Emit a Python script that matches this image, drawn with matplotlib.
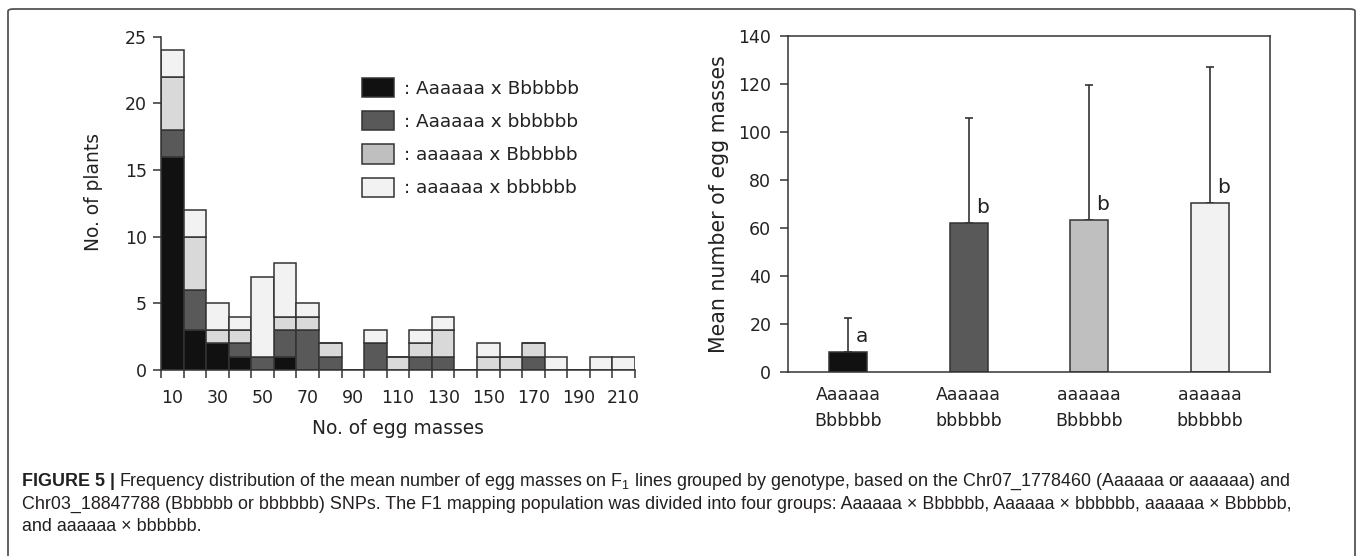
import matplotlib
matplotlib.use('Agg')
import matplotlib.pyplot as plt
import matplotlib.patches as patches
from matplotlib import font_manager
import numpy as np

# histogram counts per 10-wide bin (bin centres 10..210)
bin_centres = np.arange(10, 220, 10)
n_AB = [16, 3, 2, 1, 0, 1, 0, 0, 0, 0, 0, 0, 0, 0, 0, 0, 0, 0, 0, 0, 0]
n_Ab = [2, 3, 0, 1, 1, 2, 3, 1, 0, 2, 0, 1, 1, 0, 0, 0, 1, 0, 0, 0, 0]
n_aB = [4, 4, 1, 1, 0, 1, 1, 1, 0, 0, 1, 1, 2, 0, 1, 1, 1, 0, 0, 0, 0]
n_ab = [2, 2, 2, 1, 6, 4, 1, 0, 0, 1, 0, 1, 1, 0, 1, 0, 0, 1, 0, 1, 1]
hist_labels = [': Aaaaaa x Bbbbbb', ': Aaaaaa x bbbbbb',
               ': aaaaaa x Bbbbbb', ': aaaaaa x bbbbbb']

# mean number of egg masses per genotype group
groups = ['Aaaaaa\nBbbbbb', 'Aaaaaa\nbbbbbb', 'aaaaaa\nBbbbbb', 'aaaaaa\nbbbbbb']
means = [8.6, 62.1, 63.2, 70.3]
sd = [14.1, 43.7, 56.4, 56.8]
letters = ['a', 'b', 'b', 'b']

hist_colors = ['#111111', '#595959', '#d9d9d9', '#f2f2f2']
leg_colors = ['#111111', '#595959', '#bfbfbf', '#f2f2f2']
bar_colors = ['#111111', '#595959', '#bfbfbf', '#f2f2f2']
edge = '#333333'

plt.rcParams['font.family'] = 'DejaVu Sans'
plt.rcParams['font.size'] = 12.5
plt.rcParams['text.color'] = '#222222'
plt.rcParams['axes.labelcolor'] = '#222222'
plt.rcParams['xtick.color'] = '#333333'
plt.rcParams['ytick.color'] = '#333333'
plt.rcParams['xtick.labelcolor'] = '#222222'
plt.rcParams['ytick.labelcolor'] = '#222222'

names = {f.name for f in font_manager.fontManager.ttflist}
cap_font = 'Liberation Sans Narrow' if 'Liberation Sans Narrow' in names else 'Liberation Sans'
plt.rcParams['mathtext.fontset'] = 'custom'
plt.rcParams['mathtext.rm'] = cap_font

W, H = 1358, 556
fig = plt.figure(figsize=(W / 100, H / 100), dpi=100)

# ---- left: stacked histogram
ax1 = fig.add_axes([161 / W, 1 - 370 / H, 474 / W, 333.5 / H])
bottom = np.zeros(len(bin_centres))
for vals, col in zip([n_AB, n_Ab, n_aB, n_ab], hist_colors):
    vals = np.array(vals, dtype=float)
    ax1.bar(bin_centres, vals, width=10, bottom=bottom, color=col,
            edgecolor=edge, linewidth=1.1, zorder=2)
    bottom += vals
ax1.set_xlim(5, 215)
ax1.set_ylim(0, 25)
ax1.set_yticks(np.arange(0, 26, 5))
ax1.set_xticks(np.arange(5, 216, 10))
ax1.set_xticklabels([])
ax1.set_xticks(bin_centres[::2], minor=True)
ax1.set_xticklabels([str(v) for v in bin_centres[::2]], minor=True)
ax1.tick_params(axis='x', which='minor', length=0, pad=13.5)
ax1.tick_params(axis='x', which='major', length=6, width=1.1, direction='out')
ax1.tick_params(axis='y', length=6, width=1.1, pad=4)
for s in ['top', 'right']:
    ax1.spines[s].set_visible(False)
for s in ['left', 'bottom']:
    ax1.spines[s].set_linewidth(1.1)
    ax1.spines[s].set_color('#333333')
ax1.set_ylabel('No. of plants', fontsize=13.4)
ax1.yaxis.set_label_coords(-0.122, 0.535)
ax1.set_xlabel('No. of egg masses', fontsize=13.4, labelpad=9)

handles = [patches.Patch(facecolor=c, edgecolor=edge, linewidth=1.1) for c in leg_colors]
ax1.legend(handles, hist_labels, loc='upper left', bbox_to_anchor=(0.424, 0.876),
           frameon=False, borderpad=0, handlelength=1.73, handleheight=1.24,
           handletextpad=0.55, labelspacing=0.72, borderaxespad=0, fontsize=13.3)

# ---- right: mean bar chart with error bars
ax2 = fig.add_axes([788 / W, 1 - 372.3 / H, 482 / W, 336.6 / H])
x = np.arange(len(groups))
ax2.bar(x, means, width=0.315, color=bar_colors, edgecolor=edge, linewidth=1.1, zorder=2)
ax2.errorbar(x, means, yerr=[np.zeros(len(sd)), sd], fmt='none', ecolor='#333333',
             elinewidth=1.2, capsize=3, capthick=1.2, zorder=1)
for xi, m, lt in zip(x, means, letters):
    ax2.text(xi + 0.06, m + 2.5, lt, fontsize=14.5, ha='left', va='bottom')
ax2.set_xlim(-0.5, 3.5)
ax2.set_ylim(0, 140)
ax2.set_yticks(np.arange(0, 141, 20))
ax2.set_xticks(x)
ax2.set_xticklabels(groups, linespacing=1.55)
ax2.tick_params(axis='x', length=0, pad=10)
ax2.tick_params(axis='y', length=6, width=1.1, pad=6)
for s in ax2.spines.values():
    s.set_linewidth(1.1)
    s.set_color('#333333')
ax2.set_ylabel('Mean number of egg masses', fontsize=14.8, labelpad=7)

# ---- frame and caption
frame = patches.FancyBboxPatch((8 / W, -0.05), (1355 - 8) / W, (H - 9) / H + 0.05,
                               boxstyle='round,pad=0,rounding_size=0.004',
                               transform=fig.transFigure, facecolor='none',
                               edgecolor='#555555', linewidth=1.3, clip_on=False)
fig.add_artist(frame)

cap_size = 12.9
x0 = 22 / W
t1 = fig.text(x0, 1 - 486 / H, 'FIGURE 5 |', fontsize=cap_size, fontweight='bold',
              family=cap_font, color='#231f20', va='baseline')
fig.canvas.draw()
bb = t1.get_window_extent(renderer=fig.canvas.get_renderer())
x1 = (bb.x1 + 4) / W
fig.text(x1, 1 - 486 / H,
         'Frequency distribution of the mean number of egg masses on F$_1$ lines grouped by '
         'genotype, based on the Chr07_1778460 (Aaaaaa or aaaaaa) and',
         fontsize=cap_size, family=cap_font, color='#231f20', va='baseline')
fig.text(x0, 1 - 509 / H,
         'Chr03_18847788 (Bbbbbb or bbbbbb) SNPs. The F1 mapping population was divided into '
         'four groups: Aaaaaa \u00d7 Bbbbbb, Aaaaaa \u00d7 bbbbbb, aaaaaa \u00d7 Bbbbbb,',
         fontsize=cap_size, family=cap_font, color='#231f20', va='baseline')
fig.text(x0, 1 - 531 / H, 'and aaaaaa \u00d7 bbbbbb.',
         fontsize=cap_size, family=cap_font, color='#231f20', va='baseline')

fig.savefig('out.png', dpi=100)
